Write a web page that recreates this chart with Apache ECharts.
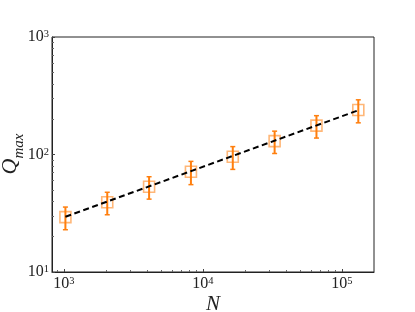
<!DOCTYPE html>
<html><head><meta charset="utf-8">
<script src="https://cdn.jsdelivr.net/npm/echarts@6/dist/echarts.min.js"></script>
<style>html,body{margin:0;padding:0;background:#fff}#c{width:415px;height:312px}</style>
</head><body><div id="c"></div>
<script>
const N = [1024, 2048, 4096, 8192, 16384, 32768, 65536, 131072];
const Qmax = [29.3, 39.2, 53.2, 71.4, 95.7, 130, 176, 239];
const Qerr = [6.4, 8.5, 11.5, 16, 21, 28, 38, 53];
const fitN = [1024, 131072];
const fitQ = [29.5, 238];
const xMajor = [1000, 10000, 100000];
const xMinor = [900, 2000, 3000, 4000, 5000, 6000, 7000, 8000, 9000, 20000, 30000, 40000, 50000, 60000, 70000, 80000, 90000];
const yMajor = [10, 100, 1000];
const yMinor = [20, 30, 40, 50, 60, 70, 80, 90, 200, 300, 400, 500, 600, 700, 800, 900];
const xRange = [820, 170000];
const yRange = [10, 1000];

const serif = '"Liberation Serif","DejaVu Serif",serif';
const supFmt = v => '{b|10}{s|' + Math.round(Math.log10(v)) + '}';
const rich = {
  b: {fontSize: 16, fontFamily: serif, color: '#222', lineHeight: 16},
  s: {fontSize: 10.5, fontFamily: serif, color: '#222', lineHeight: 10, verticalAlign: 'top'}
};
const gridRect = {left: 52, right: 41, top: 37, bottom: 40, outerBoundsMode: 'none', containLabel: false};
const chart = echarts.init(document.getElementById('c'), null, {renderer: 'canvas'});
const orange = '#ff7f0e';

chart.setOption({
  animation: false,
  grid: [
    Object.assign({show: true, borderColor: '#222', borderWidth: 1, backgroundColor: 'transparent'}, gridRect),
    Object.assign({show: false}, gridRect)
  ],
  graphic: [{
    type: 'text', x: 10, y: 154, rotation: Math.PI / 2, silent: true,
    style: {
      text: '{q|Q}{m|max}', align: 'center', verticalAlign: 'middle',
      rich: {
        q: {fontFamily: serif, fontStyle: 'italic', fontSize: 22, fill: '#222', lineHeight: 22},
        m: {fontFamily: serif, fontStyle: 'italic', fontSize: 15, fill: '#222', lineHeight: 15, verticalAlign: 'bottom', padding: [0, 0, -6, 0]}
      }
    }
  }],
  xAxis: [
    {type: 'log', gridIndex: 0, min: xRange[0], max: xRange[1],
     axisLine: {show: true, lineStyle: {color: '#222', width: 1}},
     axisTick: {show: true, inside: true, length: 3, customValues: xMajor, lineStyle: {color: '#444'}},
     axisLabel: {customValues: xMajor, formatter: supFmt, rich: rich, margin: 4},
     splitLine: {show: false}, minorTick: {show: false},
     name: 'N', nameLocation: 'middle', nameGap: 22, nameMoveOverlap: false,
     nameTextStyle: {fontFamily: serif, fontStyle: 'italic', fontSize: 21, color: '#222'}},
    {type: 'log', gridIndex: 1, min: xRange[0], max: xRange[1],
     axisLine: {show: false},
     axisTick: {show: true, inside: true, length: 2, customValues: xMinor, lineStyle: {color: '#666'}},
     axisLabel: {show: false}, splitLine: {show: false}}
  ],
  yAxis: [
    {type: 'log', gridIndex: 0, min: yRange[0], max: yRange[1],
     axisLine: {show: true, lineStyle: {color: '#222', width: 1}},
     axisTick: {show: true, inside: true, length: 3, customValues: yMajor, lineStyle: {color: '#444'}},
     axisLabel: {customValues: yMajor, formatter: supFmt, rich: rich, margin: 3},
     splitLine: {show: false}, minorTick: {show: false}},
    {type: 'log', gridIndex: 1, min: yRange[0], max: yRange[1],
     axisLine: {show: false},
     axisTick: {show: true, inside: true, length: 2, customValues: yMinor, lineStyle: {color: '#666'}},
     axisLabel: {show: false}, splitLine: {show: false}}
  ],
  series: [
    {type: 'scatter', xAxisIndex: 0, yAxisIndex: 0, z: 2,
     symbol: 'rect', symbolSize: 11,
     itemStyle: {color: 'rgba(255,255,255,0)', borderColor: 'rgba(255,127,14,0.7)', borderWidth: 1.6},
     data: N.map((n, i) => [n, Qmax[i]])},
    {type: 'custom', xAxisIndex: 0, yAxisIndex: 0, z: 3,
     data: N.map((n, i) => [n, Qmax[i] - Qerr[i], Qmax[i] + Qerr[i]]),
     renderItem: function (params, api) {
       const lo = api.coord([api.value(0), api.value(1)]);
       const hi = api.coord([api.value(0), api.value(2)]);
       const cw = 2.5;
       const st = {stroke: orange, lineWidth: 2};
       return {type: 'group', children: [
         {type: 'line', shape: {x1: lo[0], y1: lo[1], x2: hi[0], y2: hi[1]}, style: st},
         {type: 'line', shape: {x1: lo[0]-cw, y1: lo[1], x2: lo[0]+cw, y2: lo[1]}, style: {stroke: orange, lineWidth: 1.5}},
         {type: 'line', shape: {x1: hi[0]-cw, y1: hi[1], x2: hi[0]+cw, y2: hi[1]}, style: {stroke: orange, lineWidth: 1.5}}
       ]};
     }},
    {type: 'line', xAxisIndex: 0, yAxisIndex: 0, z: 4,
     symbol: 'none', silent: true,
     lineStyle: {color: '#000', width: 2, type: [6, 3.5]},
     data: fitN.map((n, i) => [n, fitQ[i]])}
  ]
});
</script></body></html>
